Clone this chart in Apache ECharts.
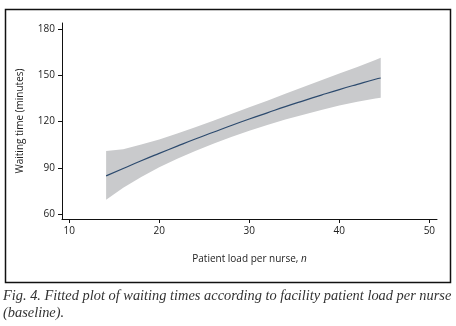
<!DOCTYPE html>
<html>
<head>
<meta charset="utf-8">
<script src="https://cdn.jsdelivr.net/npm/echarts@6/dist/echarts.min.js"></script>
<style>
  html, body { margin: 0; padding: 0; background: #fff; }
  #chart { width: 456px; height: 326px; }
</style>
</head>
<body>
<div id="chart"></div>
<script>
// patient load per nurse (x) and fitted waiting time with 95% band
const loadX = [14.1, 16, 18, 20, 22, 24, 26, 28, 30, 32, 34, 36, 38, 40, 42, 44, 44.6];
const fitted = [84.8, 89.6, 94.6, 99.4, 104.1, 108.7, 113.1, 117.5, 121.7, 125.7, 129.7, 133.5, 137.2, 140.8, 144.2, 147.5, 148.3];
const upper = [101.0, 102.1, 105.1, 108.4, 112.3, 116.4, 120.6, 125.0, 129.3, 133.6, 138.1, 142.5, 146.9, 151.2, 155.5, 160.0, 161.4];
const lower = [69.3, 77.1, 84.1, 90.4, 95.9, 101.0, 105.6, 110.0, 114.1, 117.8, 121.3, 124.5, 127.5, 130.4, 132.9, 135.0, 135.5];

const xTicks = [10, 20, 30, 40, 50];
const yTicks = [60, 90, 120, 150, 180];

const labelFont = "'Open Sans', sans-serif";

const chart = echarts.init(document.getElementById("chart"));

const option = {
  animation: false,
  backgroundColor: "#fff",
  grid: {
    left: 62,
    right: 19,
    top: 23,
    bottom: 107
  },
  xAxis: {
    type: "value",
    min: 9.2,
    max: 50.85,
    name: "Patient load per nurse, {i|n}",
    nameLocation: "middle",
    nameGap: 35,
    nameTextStyle: {
      fontFamily: labelFont,
      fontSize: 10,
      color: "#222",
      rich: {
        i: { fontFamily: labelFont, fontSize: 10, fontStyle: "italic", color: "#222" }
      }
    },
    axisLine: { show: true, onZero: false, lineStyle: { color: "#111", width: 1 } },
    axisTick: { show: true, length: 4, customValues: xTicks, lineStyle: { color: "#111" } },
    axisLabel: {
      customValues: xTicks,
      margin: 7,
      fontFamily: labelFont,
      fontSize: 10,
      color: "#222"
    },
    splitLine: { show: false }
  },
  yAxis: {
    type: "value",
    min: 56.8,
    max: 184,
    name: "Waiting time (minutes)",
    nameLocation: "middle",
    nameGap: 37,
    nameTextStyle: {
      fontFamily: labelFont,
      fontSize: 10,
      color: "#222"
    },
    axisLine: { show: true, onZero: false, lineStyle: { color: "#111", width: 1 } },
    axisTick: { show: true, length: 4, customValues: yTicks, lineStyle: { color: "#111" } },
    axisLabel: {
      customValues: yTicks,
      margin: 7,
      fontFamily: labelFont,
      fontSize: 10,
      color: "#222"
    },
    splitLine: { show: false }
  },
  series: [
    {
      name: "band",
      type: "custom",
      silent: true,
      data: [[loadX[0], lower[0]]],
      renderItem: function (params, api) {
        const pts = [];
        for (let i = 0; i < loadX.length; i++) {
          pts.push(api.coord([loadX[i], upper[i]]));
        }
        for (let i = loadX.length - 1; i >= 0; i--) {
          pts.push(api.coord([loadX[i], lower[i]]));
        }
        return {
          type: "polygon",
          shape: { points: pts },
          style: { fill: "#c9cacc", stroke: null }
        };
      },
      z: 1
    },
    {
      name: "fitted",
      type: "line",
      data: loadX.map((x, i) => [x, fitted[i]]),
      smooth: true,
      symbol: "none",
      lineStyle: { color: "#2c4a6e", width: 1.2 },
      z: 3
    }
  ],
  graphic: [
    {
      type: "rect",
      left: 3,
      top: 7,
      shape: { width: 445, height: 273 },
      style: { fill: null, stroke: "#111", lineWidth: 1.5 },
      silent: true
    },
    {
      type: "text",
      left: 3,
      top: 288,
      style: {
        text: "Fig. 4. Fitted plot of waiting times according to facility patient load per nurse\n(baseline).",
        font: "italic 14.4px 'Liberation Serif', serif",
        lineHeight: 17,
        fill: "#333"
      }
    }
  ]
};

chart.setOption(option);
</script>
</body>
</html>
